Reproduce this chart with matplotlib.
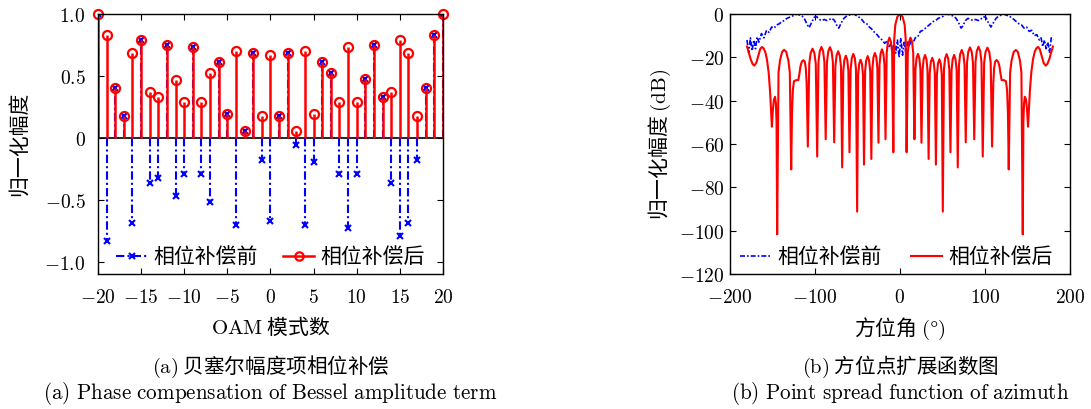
import numpy as np
import matplotlib
matplotlib.use("Agg")
import matplotlib.pyplot as plt
from matplotlib.lines import Line2D
from matplotlib.legend_handler import HandlerLine2D

plt.rcParams['font.family'] = ['Noto Sans CJK SC', 'DejaVu Sans']
plt.rcParams['mathtext.fontset'] = 'cm'
plt.rcParams['axes.unicode_minus'] = True

# (a) Bessel amplitude per OAM mode
modes = list(range(-20, 21))
amp_before = [1.0, -0.83, 0.405, 0.18, -0.684, 0.789, -0.368, -0.327, 0.751, -0.471,
              -0.291, 0.73, -0.292, -0.522, 0.616, 0.192, -0.703, 0.056, 0.687, -0.178,
              -0.67, 0.178, 0.689, -0.055, -0.703, -0.192, 0.616, 0.522, -0.292, -0.73,
              -0.292, 0.472, 0.751, 0.327, -0.368, -0.789, -0.684, -0.18, 0.405, 0.83, 1.0]
amp_after = [1.0, 0.83, 0.405, 0.18, 0.684, 0.789, 0.368, 0.327, 0.751, 0.471,
             0.291, 0.73, 0.292, 0.522, 0.616, 0.192, 0.703, 0.056, 0.687, 0.178,
             0.67, 0.178, 0.689, 0.055, 0.703, 0.192, 0.616, 0.522, 0.292, 0.73,
             0.292, 0.472, 0.751, 0.327, 0.368, 0.789, 0.684, 0.18, 0.405, 0.83, 1.0]

# (b) azimuth point spread function, before compensation (dB)
psf_before_deg = [-180, -178, -176, -174, -172, -170, -168, -166, -163, -160, -157, -154,
                  -151, -148, -145, -142, -139, -136, -133, -130, -127, -124, -121, -118,
                  -115, -112, -109, -107, -104, -101, -98, -95, -92, -89, -86, -83, -80,
                  -77, -74, -72, -69, -66, -63, -60, -57, -54, -51, -48, -45, -42, -39,
                  -36, -33, -30, -27, -24, -21, -18, -15, -13, -11, -9, -7, -5, -3, -1,
                  1, 3, 5, 7, 9, 11, 13, 15, 18, 21, 24, 27, 30, 33, 36, 39, 42, 45, 48,
                  51, 54, 57, 60, 63, 66, 69, 72, 74, 77, 80, 83, 86, 89, 92, 95, 98, 101,
                  104, 107, 110, 113, 116, 119, 122, 125, 128, 131, 134, 137, 140, 143,
                  146, 149, 152, 155, 158, 161, 164, 166, 168, 170, 172, 174, 176, 178, 180]
psf_before_db = [-12, -18, -11, -17, -12, -16, -10.5, -13, -9, -11, -7.5, -8.5,
                 -6, -6.5, -5, -4.5, -3.5, -3, -2, -1.5, -1, -0.5, 0, -0.5,
                 -1, -2.5, -5, -6.3, -4, -1.5, -1.2, -2.5, -3, -2.5, -3, -2.5, -2,
                 -3, -5.5, -6.5, -4, -2, -1, -0.5, -0.2, 0, -0.8, -1.5, -2.5, -4, -4.5,
                 -6, -7, -8.5, -9.5, -11, -12, -13.5, -12.5, -15, -14, -17, -13, -18, -12, -20,
                 -11, -19, -13, -18, -13, -15, -12, -13.5, -11, -10.5, -8, -7.5, -6.5, -5.5, -4.5, -3.5, -3, -2, -1.5,
                 -1, 0, -0.2, -0.5, -1, -2, -4, -6.5, -5.5, -3, -2, -2.5, -3, -2.5, -3, -2.5, -1.2, -1.5,
                 -4, -6, -4, -2, -1, -0.5, 0, -0.5, -1, -1.5, -2.5, -3.5, -4.5, -5,
                 -6.5, -6, -8, -7.5, -10, -9.5, -12, -11, -15, -12, -16, -13, -18, -11, -12]

# (b) after compensation (dB)
psf_after_deg = [-180, -178, -176, -173.5, -171.4, -169, -166.5, -164.5, -162.5, -160.5, -158.5,
                 -156.5, -154.5, -152.8, -151.5, -150.7, -149.5, -148.3, -147, -146, -145.2, -144.5,
                 -142.9, -141.2, -138.7, -136.3, -133.8, -131.3, -129.6, -128,
                 -127, -126, -124.7, -122, -119.6, -118.5, -117, -115.5, -113.7, -112, -110.8, -109.8, -108.4,
                 -106.75, -105.1, -102.9, -100.7, -99.05, -97.4,
                 -95.9, -94.4, -92.4, -90.4, -88.9, -87.4,
                 -85.9, -84.4, -82.4, -80.4, -78.9, -77.4,
                 -76.0, -74.6, -72.7, -70.8, -69.4, -68,
                 -66.7, -65.4, -63.7, -62.0, -60.7, -59.4,
                 -58.05, -56.7, -54.9, -53.1, -51.75, -50.4,
                 -49.2, -48.0, -46.35, -44.7, -43.5, -42.3,
                 -41.0, -39.7, -38.0, -36.3, -35.0, -33.7,
                 -32.4, -31.2, -29.5, -27.8, -26.6, -25.3,
                 -24.05, -22.8, -21.15, -19.5, -18.25, -17,
                 -15.6, -14.2, -12.4, -10.6, -9.2, -7.8,
                 -6.8, -5.5, -3, 0, 3, 5.5, 6.8, 7.8,
                 9.2, 10.6, 12.4, 14.2, 15.6, 17,
                 18.25, 19.5, 21.15, 22.8, 24.05, 25.3,
                 26.6, 27.8, 29.5, 31.2, 32.4, 33.7,
                 35.0, 36.3, 38.0, 39.7, 41.0, 42.3,
                 43.5, 44.7, 46.35, 48.0, 49.2, 50.4,
                 51.75, 53.1, 54.9, 56.7, 58.05, 59.4,
                 60.7, 62.0, 63.7, 65.4, 66.7, 68,
                 69.4, 70.8, 72.7, 74.6, 76.0, 77.4,
                 78.9, 80.4, 82.4, 84.4, 85.9, 87.4,
                 88.9, 90.4, 92.4, 94.4, 95.9, 97.4,
                 99.05, 100.7, 102.9, 105.1, 106.75, 108.4,
                 109.8, 110.8, 112, 113.7, 115.5, 117, 118.5, 119.6, 122, 124.7, 126, 127, 128,
                 129.6, 131.3, 133.8, 136.3, 138.7, 141.2, 142.9, 144.5,
                 145.2, 146, 147, 148.3, 149.5, 150.7, 151.5, 152.8, 154.5, 156.5, 158.5,
                 160.5, 162.5, 164.5, 166.5, 169, 171.4, 173.5, 176, 178, 180]
psf_after_db = [-15.0, -17.5, -20.5, -23.0, -23.8, -22.5, -19, -16.2, -15.2, -15.8, -17.5,
                -21, -27, -36, -46, -52, -44, -39.5, -38.2, -41, -50, -101.7,
                -27, -21.5, -17.5, -16.5, -17.5, -21.5, -27, -71.7,
                -45, -35, -31, -30.5, -30.5, -28, -24, -22, -21.3, -22, -25, -32, -61.2,
                -23, -18, -16, -18, -23, -65.8,
                -22.2, -17.2, -15.2, -17.2, -22.2, -57.8,
                -22.3, -17.3, -15.3, -17.3, -22.3, -59.2,
                -24.2, -19.2, -17.2, -19.2, -24.2, -70.8,
                -26.2, -21.2, -19.2, -21.2, -26.2, -63.8,
                -25.4, -20.4, -18.4, -20.4, -25.4, -91.2,
                -28.1, -23.1, -21.1, -23.1, -28.1, -69.5,
                -26.4, -21.4, -19.4, -21.4, -26.4, -66.9,
                -25, -20, -18, -20, -25, -59.4,
                -23.3, -18.3, -16.3, -18.3, -23.3, -57.8,
                -17.9, -12.9, -10.9, -12.9, -17.9, -63.8,
                -12, -5, -1.2, 0, -1.2, -5, -12, -63.8,
                -17.9, -12.9, -10.9, -12.9, -17.9, -57.8,
                -25.4, -20.4, -18.4, -20.4, -25.4, -59.4,
                -25.9, -20.9, -18.9, -20.9, -25.9, -66.9,
                -27.2, -22.2, -20.2, -22.2, -27.2, -69.5,
                -27.9, -22.9, -20.9, -22.9, -27.9, -91.2,
                -25.5, -20.5, -18.5, -20.5, -25.5, -63.8,
                -25.9, -20.9, -18.9, -20.9, -25.9, -70.8,
                -23.6, -18.6, -16.6, -18.6, -23.6, -59.2,
                -22.4, -17.4, -15.4, -17.4, -22.4, -57.8,
                -22.1, -17.1, -15.1, -17.1, -22.1, -65.8,
                -22.5, -17.5, -15.5, -17.5, -22.5, -61.2,
                -32, -25, -22, -21.2, -22, -24, -28, -30.5, -30.5, -31, -35, -45, -71.7,
                -27, -21.5, -17.5, -16.6, -17.5, -21.5, -27, -101.7,
                -50, -41, -38.2, -39.5, -44, -52, -46, -36, -27, -21, -17.5,
                -15.8, -15.2, -16.2, -19, -22.5, -23.8, -23.0, -20.5, -17.5, -15.0]

DASHDOT = (0, (4, 1.5, 1, 1.5))


class EndMarker(HandlerLine2D):
    # put the legend marker at the right end of the handle line
    def get_xdata(self, legend, xdescent, ydescent, width, height, fontsize):
        xdata, _ = super().get_xdata(legend, xdescent, ydescent, width, height, fontsize)
        return xdata, np.array([-xdescent + width])


fig = plt.figure(figsize=(10.91, 4.09), dpi=100)
ax1 = fig.add_axes([0.0898, 0.330, 0.3162, 0.6357])
ax2 = fig.add_axes([0.6691, 0.330, 0.3116, 0.6357])

# --- left: stem plot ---
ax1.axhline(0, color='k', lw=1.2, zorder=1)
ml, sl, bl = ax1.stem(modes, amp_before, linefmt='b-.', markerfmt='bx', basefmt=' ')
sl.set_linewidth(1.5)
sl.set_linestyle(DASHDOT)
ml.set_markersize(4)
ml.set_markeredgewidth(1.5)
ml2, sl2, bl2 = ax1.stem(modes, amp_after, linefmt='r-', markerfmt='ro', basefmt=' ')
sl2.set_linewidth(1.8)
ml2.set_markerfacecolor('none')
ml2.set_markersize(6.5)
ml2.set_markeredgewidth(1.6)
ml2.set_clip_on(False)
ax1.set_xlim(-20, 20)
ax1.set_ylim(-1.1, 1.0)
ax1.set_xticks([-20, -15, -10, -5, 0, 5, 10, 15, 20])
ax1.set_xticklabels(['$-20$', '$-15$', '$-10$', '$-5$', '$0$', '$5$', '$10$', '$15$', '$20$'])
ax1.set_yticks([-1.0, -0.5, 0, 0.5, 1.0])
ax1.set_yticklabels(['$-1.0$', '$-0.5$', '$0$', '$0.5$', '$1.0$'])
ax1.set_xlabel(r'$\mathrm{OAM}$ 模式数', fontsize=15, labelpad=6)
ax1.set_ylabel('归一化幅度', fontsize=15, labelpad=10)
h1 = [Line2D([], [], color='b', ls=DASHDOT, lw=1.5, marker='x', ms=4, mew=1.5),
      Line2D([], [], color='r', ls='-', lw=1.8, marker='o', ms=6, mew=1.6, mfc='none')]
ax1.legend(h1, ['相位补偿前', '相位补偿后'], loc='lower center', bbox_to_anchor=(0.5, -0.025),
           ncol=2, frameon=False, fontsize=15, handlelength=1.5, columnspacing=1.2,
           handletextpad=0.3, borderaxespad=0.2,
           handler_map={Line2D: EndMarker()})

# --- right: PSF ---
ax2.plot(psf_before_deg, psf_before_db, color='b', ls=(0, (3, 1.2, 1, 1.2)), lw=1.2)
ax2.plot(psf_after_deg, psf_after_db, color='r', ls='-', lw=1.5)
ax2.set_xlim(-200, 200)
ax2.set_ylim(-120, 0)
ax2.set_xticks([-200, -100, 0, 100, 200])
ax2.set_xticklabels(['$-200$', '$-100$', '$0$', '$100$', '$200$'])
ax2.set_yticks([-120, -100, -80, -60, -40, -20, 0])
ax2.set_yticklabels(['$-120$', '$-100$', '$-80$', '$-60$', '$-40$', '$-20$', '$0$'])
ax2.set_xlabel(r'方位角 $(\degree)$', fontsize=15, labelpad=6)
ax2.set_ylabel(r'归一化幅度 $(\mathrm{dB})$', fontsize=15, labelpad=4)
h2 = [Line2D([], [], color='b', ls=(0, (3, 1.2, 1, 1.2)), lw=1.2),
      Line2D([], [], color='r', ls='-', lw=1.5)]
ax2.legend(h2, ['相位补偿前', '相位补偿后'], loc='lower center', bbox_to_anchor=(0.49, -0.025),
           ncol=2, frameon=False, fontsize=15, handlelength=1.5, columnspacing=1.4,
           handletextpad=0.3, borderaxespad=0.2)

for ax, pad in ((ax1, 9), (ax2, 4)):
    ax.tick_params(direction='in', top=True, right=True, length=4, labelsize=14)
    ax.tick_params(axis='x', pad=9)
    ax.tick_params(axis='y', pad=pad)
    for s in ax.spines.values():
        s.set_linewidth(1.0)

# captions
fig.text(0.248, 0.104, r'$\mathrm{(a)}$ 贝塞尔幅度项相位补偿', ha='center', va='center', fontsize=14.8)
fig.text(0.248, 0.038, r'$\mathrm{(a)\ Phase\ compensation\ of\ Bessel\ amplitude\ term}$',
         ha='center', va='center', fontsize=15.2)
fig.text(0.825, 0.104, r'$\mathrm{(b)}$ 方位点扩展函数图', ha='center', va='center', fontsize=14.8)
fig.text(0.825, 0.038, r'$\mathrm{(b)\ Point\ spread\ function\ of\ azimuth}$',
         ha='center', va='center', fontsize=15.2)

fig.savefig('out.png', dpi=100)
